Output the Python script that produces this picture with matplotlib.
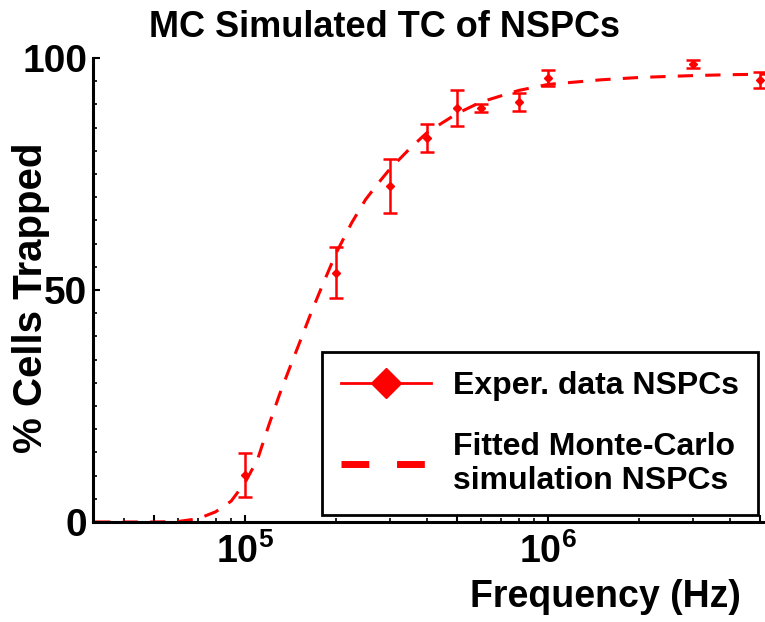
import matplotlib
matplotlib.use("Agg")
import matplotlib.pyplot as plt
from matplotlib.lines import Line2D

plt.rcParams['font.family'] = 'Liberation Sans'
plt.rcParams['font.weight'] = 'bold'
plt.rcParams['mathtext.fontset'] = 'custom'
plt.rcParams['mathtext.rm'] = 'Liberation Sans:bold'
plt.rcParams['mathtext.it'] = 'Liberation Sans:bold'
plt.rcParams['mathtext.bf'] = 'Liberation Sans:bold'

freq = [1e5, 2e5, 3e5, 4e5, 5e5, 6e5, 8e5, 1e6, 3e6, 5e6]
pct = [10.1, 53.7, 72.4, 82.8, 89.2, 89.2, 90.5, 95.7, 98.7, 95.3]
err = [4.8, 5.5, 5.8, 3.0, 3.8, 0.8, 1.9, 1.7, 0.8, 1.7]

# fitted Monte-Carlo curve
fit_freq = [3.2e4, 5e4, 6e4, 7e4, 8e4, 9e4, 1e5, 1.1e5, 1.2e5, 1.3e5, 1.4e5,
            1.5e5, 1.65e5, 1.8e5, 2e5, 2.25e5, 2.5e5, 2.75e5, 3e5, 3.5e5,
            4e5, 5e5, 6e5, 8e5, 1e6, 1.5e6, 2e6, 3e6, 4e6, 5.2e6]
fit_pct = [0, 0, 0.1, 0.7, 2.2, 4.5, 8.5, 13.5, 21, 27.5, 33,
           38, 45, 51, 58, 64.5, 69.5, 73, 76, 80.5,
           84, 88, 90.5, 93, 94.3, 95.3, 95.8, 96.2, 96.4, 96.5]

xticks = [5e4, 1e5, 5e5, 1e6, 5e6]
xticklabels = ['', r'$10^{5}$', '', r'$10^{6}$', '']
yticks = [0, 50, 100]

fig = plt.figure(figsize=(7.65, 6.22), dpi=100)
ax = fig.add_axes([0.1216, 0.1608, 0.8784, 0.746])

ax.plot(fit_freq, fit_pct, color='red', lw=2.2, dashes=(5, 4))
ax.errorbar(freq, pct, yerr=err, fmt='D', color='red', ms=4,
            elinewidth=1.8, capsize=5, capthick=1.8)

ax.set_xscale('log')

ax.set_xticks(xticks)
ax.set_xticklabels(xticklabels, fontsize=27)
minor = [k * 10 ** e for e in (4, 5, 6) for k in range(2, 10)]
ax.set_xticks(minor, minor=True)
ax.set_xticklabels([], minor=True)
ax.set_yticks(yticks)
ax.set_yticklabels([str(v) for v in yticks], fontsize=28)
ax.set_yticks(range(5, 100, 5), minor=True)

ax.set_xlim(3.15e4, 5.2e6)
ax.set_ylim(0, 100)

ax.tick_params(axis='both', which='major', direction='in', length=5, width=1.5)
ax.tick_params(axis='both', which='minor', direction='in', length=3, width=1.2)
ax.tick_params(axis='x', which='major', pad=8)
ax.tick_params(axis='y', which='major', pad=4)

for side in ['top', 'right']:
    ax.spines[side].set_visible(False)
for side in ['left', 'bottom']:
    ax.spines[side].set_linewidth(2.2)

fig.text(0.502, 0.955, 'MC Simulated TC of NSPCs', ha='center', va='center', fontsize=26)
fig.text(0.040, 0.521, '% Cells Trapped', rotation=90, ha='center', va='center', fontsize=29)
fig.text(0.792, 0.040, 'Frequency (Hz)', ha='center', va='center', fontsize=27)

handles = [Line2D([], [], color='red', lw=2, marker='D', ms=15),
           Line2D([], [], color='red', lw=5, dashes=(4, 4))]
labels = ['Exper. data NSPCs', 'Fitted Monte-Carlo\nsimulation NSPCs']
leg = ax.legend(handles, labels, loc='upper left', bbox_to_anchor=(0.341, 0.366),
                fontsize=23, handlelength=2.8, handletextpad=0.7, borderpad=0.6,
                labelspacing=0.95, frameon=True, fancybox=False, edgecolor='black',
                framealpha=1, borderaxespad=0)
leg.get_frame().set_linewidth(2)

fig.savefig('out.png', dpi=100)
